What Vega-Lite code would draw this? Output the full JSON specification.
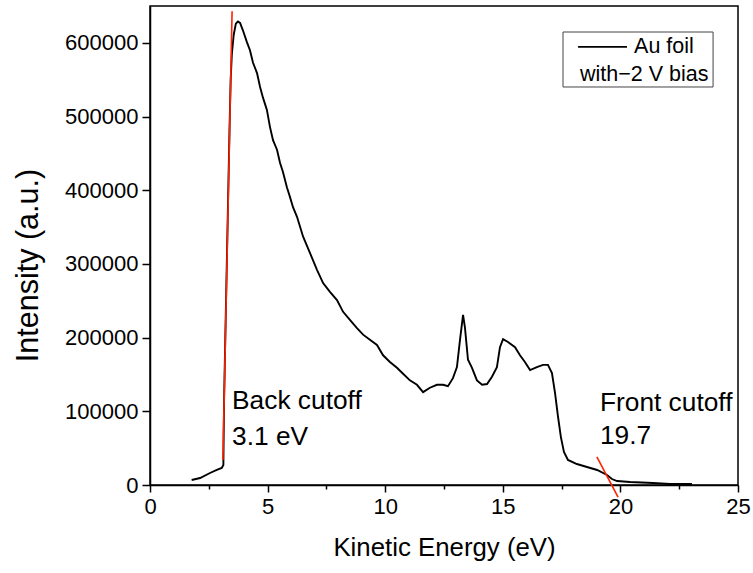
{
  "$schema": "https://vega.github.io/schema/vega-lite/v6.json",
  "width": 588,
  "height": 479,
  "autosize": "none",
  "padding": {"left": 150, "top": 6, "right": 15, "bottom": 88},
  "config": {
    "font": "Liberation Sans",
    "view": {"stroke": "black", "strokeWidth": 1.5},
    "axis": {
      "grid": false,
      "domainColor": "black",
      "domainWidth": 1.5,
      "tickColor": "black",
      "tickWidth": 1.5,
      "labelColor": "black",
      "titleColor": "black",
      "titleFontWeight": "normal",
      "labelFontSize": 22,
      "labelFont": "Liberation Sans",
      "titleFont": "Liberation Sans"
    }
  },
  "datasets": {
    "spectrum": [
      {"energy": 1.77, "intensity": 6800}, {"energy": 2.13, "intensity": 9500}, {"energy": 2.55, "intensity": 16300},
      {"energy": 2.84, "intensity": 20400}, {"energy": 3.05, "intensity": 23100}, {"energy": 3.12, "intensity": 27100},
      {"energy": 3.13, "intensity": 61000}, {"energy": 3.15, "intensity": 115000}, {"energy": 3.2, "intensity": 197000},
      {"energy": 3.26, "intensity": 292000}, {"energy": 3.32, "intensity": 387000}, {"energy": 3.38, "intensity": 482000},
      {"energy": 3.43, "intensity": 550000}, {"energy": 3.48, "intensity": 585000}, {"energy": 3.56, "intensity": 611000},
      {"energy": 3.65, "intensity": 626000}, {"energy": 3.74, "intensity": 629000}, {"energy": 3.83, "intensity": 627000},
      {"energy": 3.95, "intensity": 617000}, {"energy": 4.12, "intensity": 601000}, {"energy": 4.25, "intensity": 590000},
      {"energy": 4.38, "intensity": 573000}, {"energy": 4.55, "intensity": 559000}, {"energy": 4.68, "intensity": 540000},
      {"energy": 4.8, "intensity": 526000}, {"energy": 4.97, "intensity": 509000}, {"energy": 5.1, "intensity": 486000},
      {"energy": 5.23, "intensity": 468000}, {"energy": 5.4, "intensity": 455000}, {"energy": 5.53, "intensity": 437000},
      {"energy": 5.65, "intensity": 425000}, {"energy": 5.82, "intensity": 404000}, {"energy": 5.95, "intensity": 391000},
      {"energy": 6.08, "intensity": 377000}, {"energy": 6.25, "intensity": 364000}, {"energy": 6.51, "intensity": 337000},
      {"energy": 6.8, "intensity": 315000}, {"energy": 7.1, "intensity": 292000}, {"energy": 7.36, "intensity": 274000},
      {"energy": 7.65, "intensity": 262000}, {"energy": 7.95, "intensity": 251000}, {"energy": 8.21, "intensity": 235000},
      {"energy": 8.5, "intensity": 224000}, {"energy": 8.8, "intensity": 213000}, {"energy": 9.06, "intensity": 204000},
      {"energy": 9.35, "intensity": 197000}, {"energy": 9.65, "intensity": 190000}, {"energy": 9.91, "intensity": 176000},
      {"energy": 10.2, "intensity": 167000}, {"energy": 10.5, "intensity": 159000}, {"energy": 10.76, "intensity": 151000},
      {"energy": 11.05, "intensity": 142000}, {"energy": 11.35, "intensity": 136000}, {"energy": 11.61, "intensity": 126000},
      {"energy": 11.9, "intensity": 132000}, {"energy": 12.2, "intensity": 136000}, {"energy": 12.46, "intensity": 136000},
      {"energy": 12.67, "intensity": 134000}, {"energy": 12.88, "intensity": 145000}, {"energy": 13.05, "intensity": 160000},
      {"energy": 13.18, "intensity": 197000}, {"energy": 13.31, "intensity": 231000}, {"energy": 13.39, "intensity": 214000},
      {"energy": 13.52, "intensity": 170000}, {"energy": 13.69, "intensity": 159000}, {"energy": 13.9, "intensity": 142000},
      {"energy": 14.12, "intensity": 136000}, {"energy": 14.33, "intensity": 137000}, {"energy": 14.54, "intensity": 147000},
      {"energy": 14.75, "intensity": 160000}, {"energy": 14.88, "intensity": 187000}, {"energy": 15.01, "intensity": 198000},
      {"energy": 15.22, "intensity": 194000}, {"energy": 15.52, "intensity": 187000}, {"energy": 15.73, "intensity": 176000},
      {"energy": 15.94, "intensity": 167000}, {"energy": 16.16, "intensity": 156000}, {"energy": 16.45, "intensity": 160000},
      {"energy": 16.71, "intensity": 163000}, {"energy": 16.92, "intensity": 163000}, {"energy": 17.09, "intensity": 152000},
      {"energy": 17.22, "intensity": 125000}, {"energy": 17.35, "intensity": 92000}, {"energy": 17.47, "intensity": 65000},
      {"energy": 17.6, "intensity": 45000}, {"energy": 17.77, "intensity": 34000}, {"energy": 18.15, "intensity": 28500},
      {"energy": 18.58, "intensity": 24400}, {"energy": 19.01, "intensity": 20400}, {"energy": 19.43, "intensity": 13600},
      {"energy": 19.64, "intensity": 8100}, {"energy": 19.86, "intensity": 5400}, {"energy": 20.41, "intensity": 4100},
      {"energy": 21.39, "intensity": 2700}, {"energy": 22.11, "intensity": 1400}, {"energy": 23.04, "intensity": 1400}
    ],
    "cutoffs": [
      {"name": "back", "e1": 3.10, "i1": 33900, "e2": 3.49, "i2": 643000},
      {"name": "front", "e1": 19.0, "i1": 38000, "e2": 19.9, "i2": -16300}
    ],
    "notes": [
      {"text": "Back cutoff", "energy": 3.49, "intensity": 114000},
      {"text": "3.1 eV", "energy": 3.49, "intensity": 65000},
      {"text": "Front cutoff", "energy": 19.13, "intensity": 111300},
      {"text": "19.7", "energy": 19.13, "intensity": 66500}
    ],
    "legendBox": [
      {"e1": 17.56, "e2": 23.94, "i1": 540100, "i2": 614700}
    ],
    "legendLine": [
      {"e1": 18.2, "e2": 20.28, "i1": 594400}
    ],
    "legendText": [
      {"text": "Au foil", "energy": 20.58, "intensity": 594400},
      {"text": "with\u22122 V bias", "energy": 18.28, "intensity": 556000}
    ]
  },
  "layer": [
    {
      "data": {"name": "legendBox"},
      "mark": {"type": "rect", "fill": "white", "stroke": "#444444", "strokeWidth": 1},
      "encoding": {
        "x": {"field": "e1", "type": "quantitative"},
        "x2": {"field": "e2"},
        "y": {"field": "i1", "type": "quantitative"},
        "y2": {"field": "i2"}
      }
    },
    {
      "data": {"name": "spectrum"},
      "mark": {"type": "line", "color": "black", "strokeWidth": 1.9},
      "encoding": {
        "x": {
          "field": "energy", "type": "quantitative",
          "scale": {"domain": [0, 25], "nice": false, "zero": false},
          "axis": {
            "title": "Kinetic Energy (eV)",
            "titleFontSize": 25.8,
            "titlePadding": 18,
            "values": [0, 2.5, 5, 7.5, 10, 12.5, 15, 17.5, 20, 22.5, 25],
            "labelExpr": "datum.value % 5 === 0 ? datum.label : ''",
            "tickSize": {"condition": {"test": "datum.value % 5 === 0", "value": 7}, "value": 4},
            "labelPadding": 4,
            "labelFlush": false,
            "labelOverlap": false
          }
        },
        "y": {
          "field": "intensity", "type": "quantitative",
          "scale": {"domain": [0, 650000], "nice": false},
          "axis": {
            "title": "Intensity (a.u.)",
            "titleFontSize": 30.5,
            "titleAngle": -90,
            "titleAlign": "center",
            "titleBaseline": "middle",
            "titleX": -122,
            "titleY": 259,
            "values": [0, 50000, 100000, 150000, 200000, 250000, 300000, 350000, 400000, 450000, 500000, 550000, 600000],
            "format": "d",
            "labelExpr": "datum.value % 100000 === 0 ? datum.label : ''",
            "tickSize": {"condition": {"test": "datum.value % 100000 === 0", "value": 8}, "value": 5},
            "labelPadding": 4,
            "labelOverlap": false
          }
        }
      }
    },
    {
      "data": {"name": "cutoffs"},
      "mark": {"type": "rule", "color": "#ff2200", "strokeWidth": 1.6},
      "encoding": {
        "x": {"field": "e1", "type": "quantitative"},
        "x2": {"field": "e2"},
        "y": {"field": "i1", "type": "quantitative"},
        "y2": {"field": "i2"}
      }
    },
    {
      "data": {"name": "notes"},
      "mark": {"type": "text", "align": "left", "baseline": "middle", "fontSize": 26.3, "color": "black"},
      "encoding": {
        "x": {"field": "energy", "type": "quantitative"},
        "y": {"field": "intensity", "type": "quantitative"},
        "text": {"field": "text"}
      }
    },
    {
      "data": {"name": "legendLine"},
      "mark": {"type": "rule", "color": "black", "strokeWidth": 1.8},
      "encoding": {
        "x": {"field": "e1", "type": "quantitative"},
        "x2": {"field": "e2"},
        "y": {"field": "i1", "type": "quantitative"}
      }
    },
    {
      "data": {"name": "legendText"},
      "mark": {"type": "text", "align": "left", "baseline": "middle", "fontSize": 21.5, "color": "black"},
      "encoding": {
        "x": {"field": "energy", "type": "quantitative"},
        "y": {"field": "intensity", "type": "quantitative"},
        "text": {"field": "text"}
      }
    }
  ]
}
